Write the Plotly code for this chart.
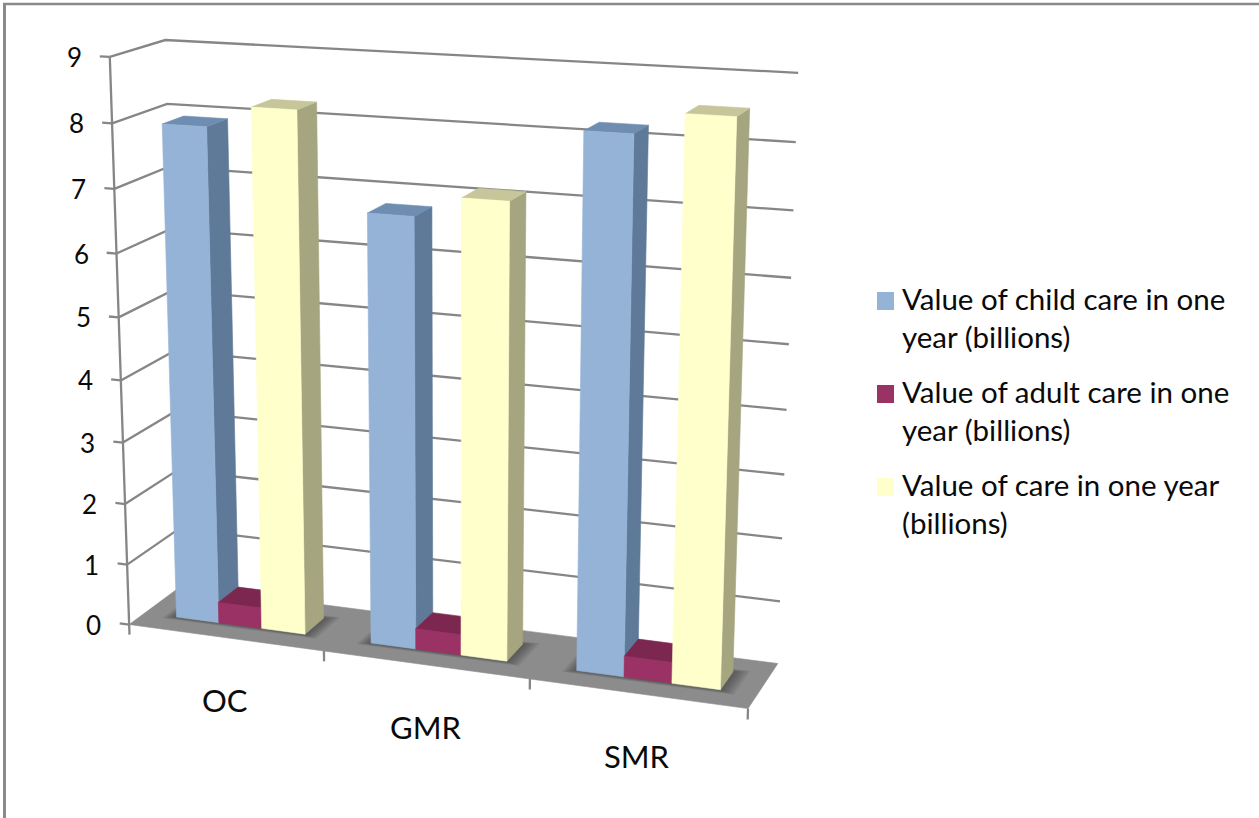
import numpy as np
import plotly.graph_objects as go

# Chart data (billions)
categories = ["OC", "GMR", "SMR"]
child_care = [7.93, 6.79, 8.22]
adult_care = [0.34, 0.33, 0.33]
total_care = [8.27, 7.12, 8.55]
value_ticks = [0, 1, 2, 3, 4, 5, 6, 7, 8, 9]
series_names = [
    "Value of child care in one<br>year (billions)",
    "Value of adult care in one<br>year (billions)",
    "Value of care in one year<br>(billions)",
]

# Face colours per series: front, side, top
FACES = [
    ("#95B3D7", "#5F7A99", "#6E8DB1"),
    ("#9B3265", "#7A2850", "#7C2750"),
    ("#FFFFCC", "#A5A57F", "#C6C69A"),
]
GRID = "#868686"
FLOOR = "#8C8C8C"
FONT = "Lato"
INK = "#0A0A0A"

W, H = 1259, 818

# Calibration of the 3D view: (category pos, depth, value) -> screen position
VIEW = [
    ((0, 0, 0), (129, 625)), ((0, 0, 1), (128, 564)), ((0, 0, 8), (112, 123)),
    ((0, 0, 9), (110, 57)), ((0, 1, 9), (166, 40)), ((0, 1, 8), (166, 104)),
    ((0, 1, 0), (181, 586)), ((3, 1, 9), (798, 73)), ((3, 1, 8), (796, 142)),
    ((3, 1, 1), (780, 602)), ((3, 1, 0), (778, 663)), ((3, 0, 0), (748, 708)),
    ((1, 0, 0), (323, 652)), ((2, 0, 0), (530, 679)),
]


def solve_view(pairs):
    rows = []
    for (a, b, c), (u, v) in pairs:
        rows.append([a, b, c, 1, 0, 0, 0, 0, -u * a, -u * b, -u * c, -u])
        rows.append([0, 0, 0, 0, a, b, c, 1, -v * a, -v * b, -v * c, -v])
    return np.linalg.svd(np.array(rows, float))[2][-1].reshape(3, 4)


CAM = solve_view(VIEW)


def project(a, b, c):
    u, v, w = CAM @ np.array([a, b, c, 1.0])
    return u / w, v / w


def polygon(points, color, name, edge=0.6):
    xy = [project(*p) for p in points + points[:1]]
    return go.Scatter(
        x=[q[0] for q in xy], y=[q[1] for q in xy], mode="lines", fill="toself",
        fillcolor=color, line=dict(color=color, width=edge), name=name,
        showlegend=False, hoverinfo="name",
    )


fig = go.Figure()

# Gridlines on the left and back walls
gx, gy = [], []
for t in value_ticks[1:]:
    for p in [(0, 0, t), (0, 1, t), (3, 1, t)]:
        q = project(*p)
        gx.append(q[0])
        gy.append(q[1])
    gx.append(None)
    gy.append(None)
# Value axis with its tick marks
for seg in [[(0, 0, 0), (0, 0, 9)]] + [[(-0.05, 0, t), (0, 0, t)] for t in value_ticks]:
    for p in seg:
        q = project(*p)
        gx.append(q[0])
        gy.append(q[1])
    gx.append(None)
    gy.append(None)
fig.add_trace(go.Scatter(x=gx, y=gy, mode="lines", line=dict(color=GRID, width=2.3),
                         showlegend=False, hoverinfo="skip"))

# Floor
fig.add_trace(polygon([(0, 0, 0), (3, 0, 0), (3, 1, 0), (0, 1, 0)], FLOOR, "floor"))

# Category ticks below the floor
tx, ty = [], []
for k in range(4):
    for p in [(k, 0, 0), (k, 0, -0.17)]:
        q = project(*p)
        tx.append(q[0])
        ty.append(q[1])
    tx.append(None)
    ty.append(None)
fig.add_trace(go.Scatter(x=tx, y=ty, mode="lines", line=dict(color=GRID, width=2.3),
                         showlegend=False, hoverinfo="skip"))

# Bar geometry: gap width 150%, gap depth 150%
BAR_W = 2 / 9
GAP = 1 / 6
Y0, Y1 = 0.3, 0.7

# Soft contact shadow on the floor, built from nested translucent rectangles
for k in range(len(categories)):
    for step in range(8):
        grow = 0.065 - step * 0.008
        a0, a1 = k + GAP - grow * 0.9, k + 1 - GAP + grow * 1.1
        b0, b1 = Y0 - grow * 1.0, Y1 + grow * 1.0
        fig.add_trace(polygon([(a0, b0, 0), (a1, b0, 0), (a1, b1, 0), (a0, b1, 0)],
                              "rgba(40,40,40,0.075)", "shadow", edge=0))

# Bars, painted left to right so each side face sits behind its neighbour
for k in range(len(categories)):
    for s, values in enumerate([child_care, adult_care, total_care]):
        v = values[k]
        a0 = k + GAP + s * BAR_W
        a1 = a0 + BAR_W
        front, side, top = FACES[s]
        fig.add_trace(polygon([(a1, Y0, 0), (a1, Y1, 0), (a1, Y1, v), (a1, Y0, v)], side, series_names[s]))
        fig.add_trace(polygon([(a0, Y0, v), (a1, Y0, v), (a1, Y1, v), (a0, Y1, v)], top, series_names[s]))
        fig.add_trace(polygon([(a0, Y0, 0), (a1, Y0, 0), (a1, Y0, v), (a0, Y0, v)], front, series_names[s]))

annotations = []
# Value axis labels follow the slanted axis
for t in value_ticks:
    x, y = project(0, 0, t)
    annotations.append(dict(x=x, y=y, xref="x", yref="y", text=str(t), showarrow=False,
                            xanchor="right", yanchor="middle", xshift=-26,
                            font=dict(family=FONT, size=26, color=INK)))
# Category labels under the floor
for k, c in enumerate(categories):
    x, y = project(k + 0.5, 0, 0)
    annotations.append(dict(x=x, y=y, xref="x", yref="y", text=c, showarrow=False,
                            xanchor="center", yanchor="middle", yshift=-62,
                            font=dict(family=FONT, size=31, color=INK)))

# Legend block
shapes = []
LEGEND_TOP = [292, 385, 478]
for s, top in enumerate(LEGEND_TOP):
    shapes.append(dict(type="rect", xref="x", yref="y", x0=877, x1=894, y0=top, y1=top + 18,
                       fillcolor=FACES[s][0], line=dict(width=0)))
    annotations.append(dict(x=900, y=top - 13, xref="x", yref="y", text=series_names[s],
                            showarrow=False, xanchor="left", yanchor="top", align="left",
                            font=dict(family=FONT, size=29.5, color=INK)))

# Frame along the top and left edges
shapes.append(dict(type="line", xref="x", yref="y", x0=3, x1=W, y0=4, y1=4,
                   line=dict(color="#8A8A8A", width=2.5)))
shapes.append(dict(type="line", xref="x", yref="y", x0=4.5, x1=4.5, y0=3, y1=H,
                   line=dict(color="#8A8A8A", width=3)))

fig.update_layout(
    width=W, height=H, autosize=False,
    margin=dict(l=0, r=0, t=0, b=0),
    paper_bgcolor="white", plot_bgcolor="white",
    xaxis=dict(range=[0, W], visible=False, fixedrange=True),
    yaxis=dict(range=[H, 0], visible=False, fixedrange=True),
    annotations=annotations, shapes=shapes, showlegend=False,
)
fig.write_html("out.html", config=dict(displayModeBar=False))
